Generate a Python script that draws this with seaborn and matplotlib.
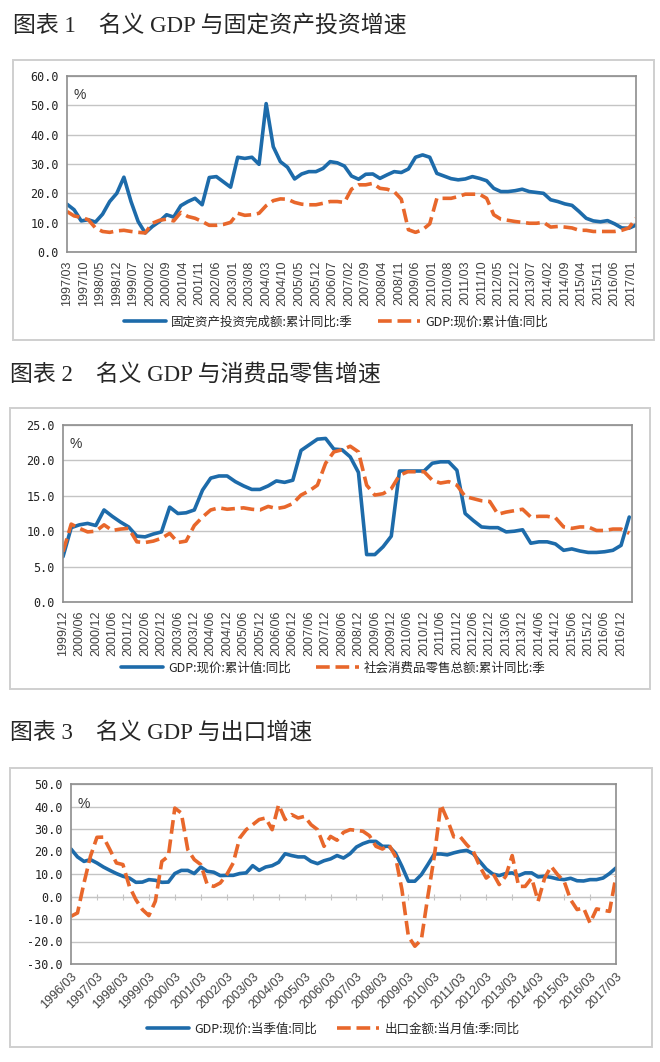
import numpy as np
import pandas as pd
import matplotlib.pyplot as plt
import seaborn as sns
from matplotlib.patches import Rectangle

# === Chart 1: FAI vs nominal GDP, quarterly 1997/03 - 2017/03 ===
fai_yoy = [16.3, 14.4, 10.6, 11.0, 10.2, 12.9, 17.2, 20.0, 25.5, 17.2, 10.4, 6.5,
           8.7, 10.4, 12.7, 11.9, 15.8, 17.2, 18.3, 16.1, 25.4, 25.7, 23.9, 22.1,
           32.3, 31.9, 32.3, 29.9, 50.6, 35.9, 30.8, 28.9, 24.9, 26.6, 27.4, 27.4,
           28.5, 30.8, 30.4, 29.3, 25.9, 24.8, 26.5, 26.6, 25.1, 26.3, 27.4, 27.1,
           28.3, 32.3, 33.1, 32.3, 26.8, 25.9, 25.0, 24.6, 24.9, 25.7, 25.1, 24.3,
           21.7, 20.6, 20.6, 20.9, 21.4, 20.6, 20.3, 20.0, 17.8, 17.2, 16.4, 15.9,
           13.8, 11.5, 10.6, 10.3, 10.7, 9.6, 8.2, 8.1, 9.2]
gdp_cum_1 = [13.8, 12.3, 11.8, 11.0, 8.2, 7.0, 6.7, 7.2, 7.4, 7.0, 6.7, 6.5,
             9.8, 10.8, 11.2, 10.6, 13.5, 12.1, 11.5, 10.4, 9.1, 9.1, 9.4, 10.1,
             13.2, 12.5, 12.7, 13.2, 15.8, 17.5, 18.1, 18.0, 16.9, 16.3, 16.1, 16.1,
             16.6, 17.2, 17.2, 16.9, 21.4, 22.9, 22.9, 23.4, 21.7, 21.4, 20.6, 18.0,
             7.6, 6.7, 7.6, 9.6, 18.3, 18.3, 18.3, 18.9, 19.7, 19.7, 19.7, 18.3,
             12.7, 11.2, 10.8, 10.4, 10.1, 9.8, 9.8, 10.1, 8.5, 8.7, 8.5, 8.2,
             7.4, 7.4, 7.0, 7.0, 7.0, 7.0, 7.4, 8.2, 11.5]

# === Chart 2: GDP vs retail sales, quarterly 1999/12 - 2017/03 ===
gdp_cum_2 = [6.4, 10.5, 10.9, 11.1, 10.8, 13.0, 12.1, 11.3, 10.6, 9.3, 9.2, 9.6, 9.9,
             13.4, 12.5, 12.6, 13.0, 15.8, 17.5, 17.8, 17.8, 17.0, 16.4, 15.9, 15.9,
             16.4, 17.1, 16.9, 17.2, 21.4, 22.2, 23.0, 23.1, 21.6, 21.5, 20.5, 18.3,
             6.7, 6.7, 7.8, 9.3, 18.5, 18.5, 18.5, 18.5, 19.6, 19.8, 19.8, 18.6,
             12.5, 11.5, 10.6, 10.5, 10.5, 9.9, 10.0, 10.2, 8.3, 8.5, 8.5, 8.2,
             7.3, 7.5, 7.2, 7.0, 7.0, 7.1, 7.3, 8.0, 12.0]
retail_yoy = [7.1, 11.0, 10.4, 9.9, 10.0, 10.9, 10.1, 10.3, 10.4, 8.5, 8.4, 8.6, 9.0,
              9.7, 8.4, 8.6, 10.8, 12.0, 13.0, 13.3, 13.1, 13.2, 13.3, 13.1, 13.0,
              13.5, 13.2, 13.4, 13.9, 15.1, 15.7, 16.5, 19.6, 21.2, 21.5, 22.0, 21.2,
              16.5, 15.1, 15.3, 16.0, 17.9, 18.4, 18.4, 18.4, 17.2, 16.8, 17.0, 16.5,
              14.9, 14.6, 14.3, 14.2, 12.4, 12.7, 12.9, 13.1, 12.0, 12.1, 12.1, 11.9,
              10.6, 10.4, 10.6, 10.6, 10.1, 10.1, 10.3, 10.3, 9.7]

# === Chart 3: GDP vs exports, quarterly 1996/03 - 2017/03 ===
gdp_q = [21.1, 17.6, 15.6, 16.4, 14.9, 13.1, 11.6, 10.2, 9.0, 8.2, 6.3, 6.4,
         7.5, 7.2, 6.3, 6.4, 10.2, 11.6, 11.6, 10.2, 13.1, 11.2, 10.8, 9.3,
         9.4, 9.4, 10.2, 10.5, 13.7, 11.6, 13.1, 13.7, 15.2, 19.0, 18.2, 17.6,
         17.6, 15.6, 14.6, 15.9, 16.7, 18.2, 17.1, 19.0, 22.0, 23.5, 24.5, 24.5,
         22.3, 22.3, 19.3, 13.4, 6.8, 6.8, 9.7, 14.2, 18.9, 18.9, 18.5, 19.4,
         20.1, 20.5, 19.0, 15.6, 12.2, 10.0, 9.3, 10.2, 10.5, 9.3, 10.5, 10.5,
         8.7, 9.0, 8.5, 7.8, 7.5, 8.1, 7.0, 6.9, 7.5, 7.5, 8.2, 10.2, 12.7]
export_yoy = [-8.8, -7.3, 6.0, 17.9, 26.3, 26.4, 20.8, 14.9, 14.2, 4.5, -1.4, -5.8,
              -8.5, -2.1, 15.6, 17.9, 39.3, 37.1, 20.8, 16.4, 14.2, 5.3, 4.5, 6.0,
              9.7, 14.9, 26.0, 29.7, 31.9, 34.2, 34.9, 29.7, 40.8, 34.2, 36.4, 34.9,
              35.6, 31.9, 29.7, 22.3, 26.7, 25.0, 28.5, 29.7, 29.4, 29.0, 27.0, 22.3,
              21.1, 23.0, 17.9, 3.1, -17.7, -22.1, -19.2, 0.1, 17.9, 40.8, 34.2, 26.5,
              26.5, 23.0, 20.1, 13.4, 8.2, 10.5, 5.3, 9.0, 18.2, 4.5, 4.5, 8.2,
              -2.1, 8.2, 13.4, 9.7, 6.8, -1.4, -5.8, -5.1, -11.8, -5.5, -6.1, -6.6, 9.0]

titles = ["图表 1　名义 GDP 与固定资产投资增速",
          "图表 2　名义 GDP 与消费品零售增速",
          "图表 3　名义 GDP 与出口增速"]
labels_1 = ["固定资产投资完成额:累计同比:季", "GDP:现价:累计值:同比"]
labels_2 = ["GDP:现价:累计值:同比", "社会消费品零售总额:累计同比:季"]
labels_3 = ["GDP:现价:当季值:同比", "出口金额:当月值:季:同比"]

BLUE = "#1D6BAA"
ORANGE = "#E8672B"
GRID = "#C4C4C4"
FRAME = "#8E8E8E"
CJK = ["Noto Sans CJK SC", "DejaVu Sans"]
TITLE_FONT = ["Liberation Serif", "Noto Sans CJK SC"]

sns.set_style("white")
plt.rcParams["font.family"] = ["Liberation Sans", "Noto Sans CJK SC"]


def quarter_months(start, end):
    d = pd.date_range(start, end, freq="3MS")
    base = d[0]
    return np.array((d.year - base.year) * 12 + d.month - base.month), base


def month_ticks(base, step, last):
    pos = np.arange(0, last + 1, step)
    dates = [base + pd.DateOffset(months=int(p)) for p in pos]
    return pos, [f"{t.year}/{t.month:02d}" for t in dates]


W, H = 660, 1062
fig = plt.figure(figsize=(W / 100, H / 100), dpi=100)


def px_axes(left, top, right, bottom):
    return fig.add_axes([left / W, 1 - bottom / H, (right - left) / W, (bottom - top) / H])


def frame_box(left, top, right, bottom):
    fig.patches.append(Rectangle((left / W, 1 - bottom / H), (right - left) / W,
                                 (bottom - top) / H, transform=fig.transFigure,
                                 fill=False, edgecolor="#CFCFCF", lw=1.4))


def draw(ax, x, blue, orange, labels, ylim, ystep, xlim, ticks, ticklabels,
         rot, leg_xy, leg_gap):
    sns.lineplot(x=x, y=blue, ax=ax, color=BLUE, lw=2.6, label=labels[0])
    sns.lineplot(x=x, y=orange, ax=ax, color=ORANGE, lw=2.6,
                 linestyle=(0, (3.8, 1.6)), label=labels[1])
    ax.set_xlim(*xlim)
    ax.set_ylim(*ylim)
    ax.set_yticks(np.arange(ylim[0], ylim[1] + 0.1, ystep))
    ax.set_yticklabels([f"{v:.1f}" for v in ax.get_yticks()])
    ax.yaxis.grid(True, color=GRID, lw=1.0)
    ax.set_axisbelow(True)
    for s in ax.spines.values():
        s.set_color(FRAME)
        s.set_linewidth(1.2)
    ax.set_xticks(ticks)
    if rot == 90:
        ax.set_xticklabels(ticklabels, rotation=90, fontsize=9, color="#404040")
        ax.tick_params(axis="x", length=4, color=FRAME, pad=2)
    else:
        ax.set_xticklabels(ticklabels, rotation=45, ha="right",
                           rotation_mode="anchor", fontsize=9, color="#404040")
        ax.tick_params(axis="x", length=0, pad=5)
    ax.tick_params(axis="y", length=0, pad=6, labelsize=8.5,
                   labelfontfamily="DejaVu Sans Mono", labelcolor="#222222")
    ax.set_xlabel("")
    ax.set_ylabel("")
    ax.text(0.012, 0.93, "%", transform=ax.transAxes, fontsize=10,
            va="top", ha="left", color="#333333")
    ax.legend(loc="center", bbox_to_anchor=(leg_xy[0] / W, 1 - leg_xy[1] / H),
              bbox_transform=fig.transFigure, ncol=2, frameon=False,
              handlelength=3.4, handletextpad=0.4, columnspacing=leg_gap,
              prop={"family": CJK, "size": 9})


# ---- chart 1 ----
fig.text(13 / W, 1 - 26 / H, titles[0], fontsize=16.5, va="center", ha="left",
         family=TITLE_FONT)
frame_box(13, 60, 654, 340)
x1, b1 = quarter_months("1997-03-01", "2017-03-01")
t1, tl1 = month_ticks(b1, 7, 240)
ax1 = px_axes(67, 76, 636, 252)
draw(ax1, x1, fai_yoy, gdp_cum_1, labels_1, (0, 60), 10, (0, 240), t1, tl1,
     90, (336, 322), 2.0)

# ---- chart 2 ----
fig.text(10 / W, 1 - 375 / H, titles[1], fontsize=16.5, va="center", ha="left",
         family=TITLE_FONT)
frame_box(10, 408, 650, 689)
x2, b2 = quarter_months("1999-12-01", "2017-03-01")
t2, tl2 = month_ticks(b2, 6, 204)
ax2 = px_axes(63, 425, 632, 602)
draw(ax2, x2, gdp_cum_2, retail_yoy, labels_2, (0, 25), 5, (0, 208), t2, tl2,
     90, (333, 668), 2.0)

# ---- chart 3 ----
fig.text(10 / W, 1 - 733 / H, titles[2], fontsize=16.5, va="center", ha="left",
         family=TITLE_FONT)
frame_box(10, 768, 652, 1047)
x3, b3 = quarter_months("1996-03-01", "2017-03-01")
t3, tl3 = month_ticks(b3, 12, 252)
ax3 = px_axes(71, 784, 616, 964)
draw(ax3, x3, gdp_q, export_yoy, labels_3, (-30, 50), 10, (0, 252), t3, tl3,
     45, (333, 1029), 1.6)
zero_loc = (0 - ax3.get_ylim()[0]) / (ax3.get_ylim()[1] - ax3.get_ylim()[0])
sec = ax3.secondary_xaxis(zero_loc)
sec.set_xticks(t3)
sec.set_xticklabels([])
sec.tick_params(direction="inout", length=5, color=GRID)
sec.spines["bottom"].set_color(GRID)
sec.spines["top"].set_color(GRID)

fig.savefig("out.png", dpi=100)
plt.close(fig)
